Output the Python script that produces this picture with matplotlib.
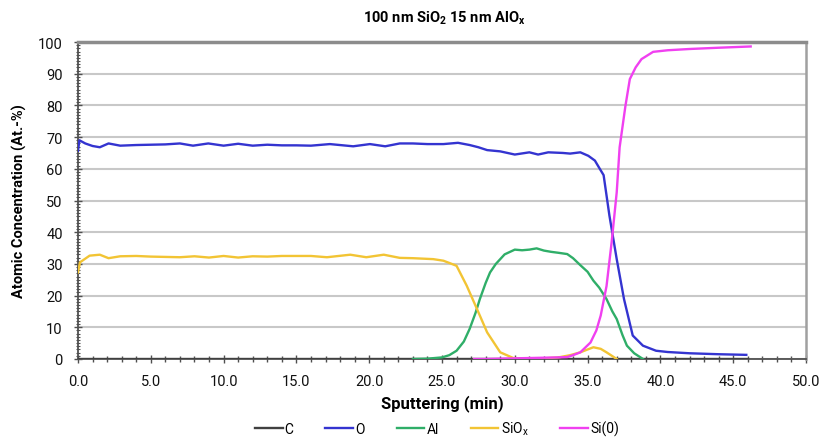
import matplotlib
matplotlib.use("Agg")
import matplotlib.pyplot as plt
from matplotlib.ticker import MultipleLocator, FormatStrFormatter

plt.rcParams['font.family'] = ['Roboto', 'DejaVu Sans']

# Depth profile data: sputter time (min) vs atomic concentration (At.-%)
c_time = [0, 46]
c_conc = [0, 0]

o_time = [0, 0.1, 0.5, 1.0, 1.5, 2.1, 2.9, 4, 5, 6, 7, 7.9, 8.95, 10, 11, 12, 13, 14,
          15, 16, 17.3, 18.9, 20.05, 21.1, 22.1, 23, 24, 25.1, 26.1, 26.9, 27.5, 28.1,
          29.0, 30.0, 31.0, 31.6, 32.3, 33.3, 33.8, 34.5, 35.05, 35.5, 35.85, 36.1,
          36.5, 37.0, 37.5, 38.1, 38.8, 39.7, 40.5, 42, 44, 45.9]
o_conc = [65.7, 69.0, 68.0, 67.2, 66.8, 68.0, 67.3, 67.5, 67.6, 67.7, 68.0, 67.3, 68.0,
          67.3, 67.9, 67.3, 67.6, 67.4, 67.4, 67.3, 67.8, 67.1, 67.8, 67.1, 68.0, 68.0,
          67.8, 67.8, 68.2, 67.5, 66.8, 65.9, 65.5, 64.5, 65.2, 64.5, 65.2, 65.0, 64.8,
          65.2, 64.1, 62.6, 59.9, 58.0, 45.2, 31.5, 18.9, 7.4, 4.2, 2.6, 2.2, 1.8, 1.5, 1.3]

al_time = [23, 24, 25, 25.5, 26, 26.5, 26.9, 27.3, 27.6, 28, 28.3, 28.7, 29.3, 30, 30.5,
           31, 31.5, 32, 32.5, 33, 33.6, 34, 34.5, 35, 35.4, 35.8, 36.3, 36.7, 37.0,
           37.4, 37.7, 38.2, 38.8]
al_conc = [0, 0.1, 0.5, 1.2, 2.6, 5.5, 9.5, 14.5, 18.9, 24.0, 27.3, 30.0, 33.0, 34.5,
           34.3, 34.5, 34.9, 34.2, 33.8, 33.5, 33.1, 31.8, 29.6, 27.5, 24.7, 22.5, 18.9,
           15.0, 12.6, 7.5, 4.2, 1.8, 0]

siox_time = [0, 0.14, 0.8, 1.5, 2.1, 2.9, 4, 5, 6, 7, 8, 9, 10, 11, 12, 13, 14, 15, 16,
             17.1, 18.7, 19.8, 21.0, 22.1, 23, 24.4, 25.1, 25.5, 26.0, 26.7, 27.4, 28.1,
             29.0, 29.9, 31, 32, 33, 33.8, 34.5, 35.0, 35.4, 35.9, 36.3, 37.0]
siox_conc = [27.3, 30.5, 32.6, 32.9, 31.8, 32.4, 32.5, 32.3, 32.2, 32.1, 32.4, 32.0, 32.5,
             32.0, 32.4, 32.3, 32.5, 32.5, 32.5, 32.1, 32.9, 32.1, 32.9, 31.9, 31.8, 31.5,
             31.0, 30.3, 29.4, 23.1, 15.8, 8.4, 2.1, 0.3, 0.1, 0.2, 0.5, 1.2, 2.1, 3.0,
             3.7, 3.2, 2.1, 0]

si0_time = [27.2, 28, 29, 30, 31, 32, 33, 33.6, 34.0, 34.5, 35.2, 35.6, 35.9, 36.3, 36.65,
            37.0, 37.2, 37.6, 37.9, 38.3, 38.7, 39.5, 40.5, 42.0, 44, 46.2]
si0_conc = [0, 0, 0.1, 0.2, 0.3, 0.4, 0.5, 0.6, 1.2, 2.1, 5.2, 9.0, 13.7, 23.0, 36.8, 52.6,
            66.8, 79.9, 88.3, 92.0, 94.6, 96.9, 97.4, 97.8, 98.2, 98.6]

fig = plt.figure(figsize=(8.26, 4.39), dpi=100)
ax = fig.add_axes([0.0944, 0.18, 0.8814, 0.722])

lw = 1.7
ax.plot(c_time, c_conc, color='#404040', lw=lw, label='C', zorder=3)
ax.plot(o_time, o_conc, color='#3434d0', lw=lw, label='O', zorder=4)
ax.plot(al_time, al_conc, color='#2fae68', lw=lw, label='Al', zorder=4)
ax.plot(siox_time, siox_conc, color='#f2c434', lw=lw, label='SiO$_\\mathregular{x}$', zorder=4)
ax.plot(si0_time, si0_conc, color='#f040f0', lw=lw, label='Si(0)', zorder=5)

ax.set_xlim(0, 50)
ax.set_ylim(0, 100)
ax.xaxis.set_major_locator(MultipleLocator(5))
ax.xaxis.set_minor_locator(MultipleLocator(1))
ax.xaxis.set_major_formatter(FormatStrFormatter('%.1f'))
ax.yaxis.set_major_locator(MultipleLocator(10))
ax.yaxis.set_minor_locator(MultipleLocator(1))

ax.grid(axis='y', which='major', color='#c8c8c8', lw=1.5)
ax.set_axisbelow(True)

ax.tick_params(axis='both', which='major', direction='inout', length=6, width=1,
               color='#505050', labelsize=10.5, labelcolor='#111111')
ax.tick_params(axis='x', which='major', pad=8)
ax.tick_params(axis='y', which='major', pad=8)
ax.tick_params(axis='x', which='minor', direction='inout', length=4, width=1, color='#505050')
ax.tick_params(axis='y', which='minor', direction='inout', length=3, width=0.8, color='#505050')

for side in ('left', 'bottom'):
    ax.spines[side].set_color('#505050')
    ax.spines[side].set_linewidth(1.3)
ax.spines['top'].set_color('#8c8c8c')
ax.spines['top'].set_linewidth(2.5)
ax.spines['right'].set_color('#a0a0a0')
ax.spines['right'].set_linewidth(1.8)

ax.set_xlabel('Sputtering (min)', fontsize=12, fontweight='bold', labelpad=4)
ax.set_ylabel('Atomic Concentration (At.-%)', fontsize=10.5, fontweight='bold', labelpad=8)
fig.text(0.538, 0.958, '100 nm SiO$_\\mathregular{2}$ 15 nm AlO$_\\mathregular{x}$',
         ha='center', va='center', fontsize=10.5, fontweight='bold')

leg = fig.legend(loc='center', bbox_to_anchor=(0.529, 0.021), ncol=5, frameon=False,
                 fontsize=10, handlelength=2.0, handletextpad=0.15, columnspacing=2.3,
                 borderaxespad=0, borderpad=0)

fig.savefig('out.png', dpi=100)
